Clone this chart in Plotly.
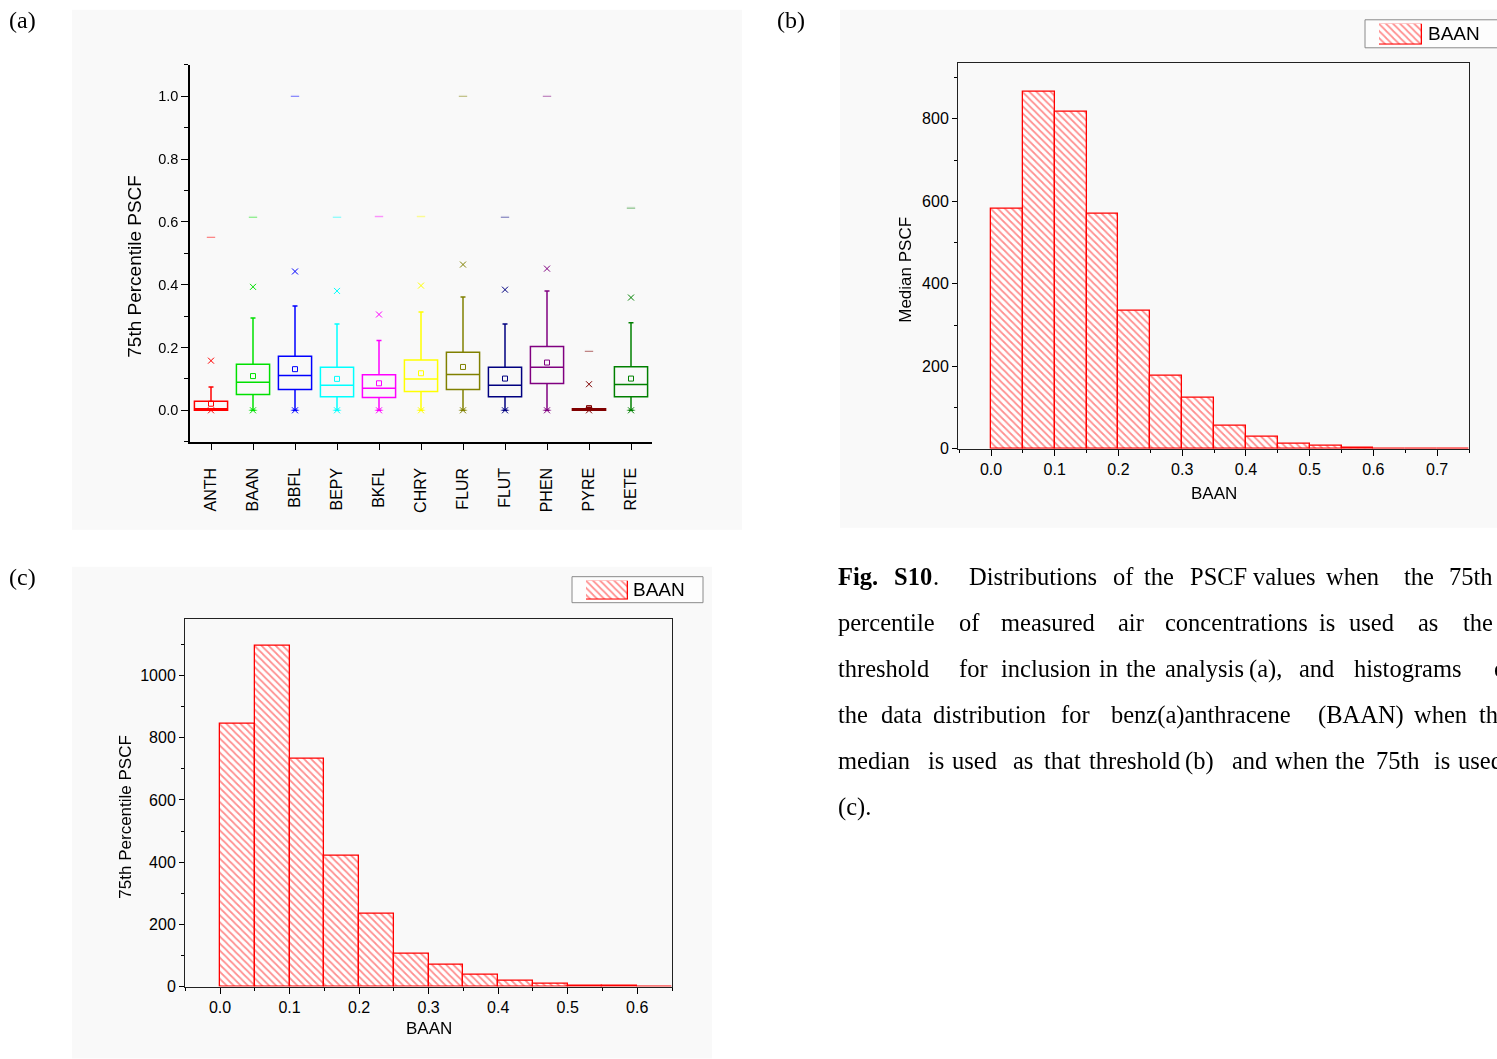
import plotly.graph_objects as go

# ---------------- data: panel (a) box plot ----------------
categories = ["ANTH", "BAAN", "BBFL", "BEPY", "BKFL", "CHRY", "FLUR", "FLUT", "PHEN", "PYRE", "RETE"]
box_colors = ["#FF0000", "#00E000", "#0000FF", "#00FFFF", "#FF00FF", "#FFFF00",
              "#808000", "#000080", "#800080", "#800000", "#008000"]
q1_vals = [0.0, 0.050, 0.066, 0.043, 0.041, 0.060, 0.066, 0.043, 0.085, 0.0, 0.043]
median_vals = [0.005, 0.089, 0.111, 0.080, 0.070, 0.100, 0.114, 0.080, 0.137, 0.001, 0.082]
q3_vals = [0.029, 0.147, 0.172, 0.137, 0.113, 0.160, 0.185, 0.137, 0.203, 0.005, 0.139]
mean_vals = [0.021, 0.109, 0.131, 0.100, 0.086, 0.118, 0.138, 0.101, 0.152, 0.007, 0.101]
whisker_low = [0.0] * 11
whisker_high = [0.074, 0.294, 0.332, 0.275, 0.222, 0.313, 0.361, 0.275, 0.380, 0.010, 0.279]
p1_vals = [0.0] * 11
p99_vals = [0.158, 0.393, 0.442, 0.380, 0.305, 0.397, 0.464, 0.384, 0.451, 0.083, 0.359]
min_vals = [0.0] * 11
max_vals = [0.551, 0.615, 1.0, 0.615, 0.617, 0.617, 1.0, 0.615, 1.0, 0.188, 0.644]

# ---------------- data: panel (b) histogram (median) ----------------
bins_b = [0.00, 0.05, 0.10, 0.15, 0.20, 0.25, 0.30, 0.35, 0.40, 0.45, 0.50, 0.55, 0.60, 0.65, 0.70]
counts_b = [582, 865, 817, 570, 335, 177, 123, 55, 30, 11, 7, 3, 1, 0, 1]

# ---------------- data: panel (c) histogram (75th) ----------------
bins_c = [0.00, 0.05, 0.10, 0.15, 0.20, 0.25, 0.30, 0.35, 0.40, 0.45, 0.50, 0.55, 0.60]
counts_c = [846, 1096, 733, 421, 235, 106, 71, 37, 19, 9, 4, 3, 1]

bin_width = 0.05
series_name = "BAAN"

W, H = 1497, 1059
def px(x):
    return x / W
def py(y):
    # vertical pixel position (from top) -> paper fraction, with small
    # correction for the capture's vertical scale
    return 1 - ((y - 0.2) / 0.9917) / H

SANS = "Liberation Sans, Arial, sans-serif"
SERIF = "Liberation Serif, Times New Roman, serif"

fig = go.Figure()

# ---- panel (a) boxes ----
for i, c in enumerate(categories):
    fig.add_trace(go.Box(
        x=[c], q1=[q1_vals[i]], median=[median_vals[i]], q3=[q3_vals[i]],
        lowerfence=[whisker_low[i]], upperfence=[whisker_high[i]],
        line=dict(color=box_colors[i], width=1.5), fillcolor="rgba(0,0,0,0)",
        width=0.79, whiskerwidth=0.15, boxpoints=False, showlegend=False,
        xaxis="x", yaxis="y", hoverinfo="skip"))

fig.add_trace(go.Scatter(x=categories, y=mean_vals, mode="markers", showlegend=False,
                         marker=dict(symbol="square-open", size=5, color=box_colors, line=dict(width=1)),
                         xaxis="x", yaxis="y"))
for yv in (p99_vals, p1_vals):
    fig.add_trace(go.Scatter(x=categories, y=yv, mode="markers", showlegend=False,
                             marker=dict(symbol="x-thin-open", size=6, color=box_colors,
                                         line=dict(width=1, color=box_colors)),
                             xaxis="x", yaxis="y"))
for yv in (max_vals, min_vals):
    fig.add_trace(go.Scatter(x=categories, y=yv, mode="markers", showlegend=False, opacity=0.6,
                             marker=dict(symbol="line-ew-open", size=6, color=box_colors,
                                         line=dict(width=1, color=box_colors)),
                             xaxis="x", yaxis="y"))

# ---- histogram style ----
def hist_marker():
    return dict(color="white",
                line=dict(color="#FF0000", width=1.3),
                pattern=dict(shape="\\", fgcolor="#FF2020", bgcolor="white", size=5, solidity=0.35))

fig.add_trace(go.Bar(x=bins_b, y=counts_b, width=bin_width, offset=0, name=series_name,
                     marker=hist_marker(), xaxis="x2", yaxis="y2", showlegend=False))
fig.add_trace(go.Bar(x=bins_c, y=counts_c, width=bin_width, offset=0, name=series_name,
                     marker=hist_marker(), xaxis="x3", yaxis="y3", showlegend=False))

# legend key swatches (one full-size hatched key per legend box)
for xa, ya in (("x4", "y4"), ("x5", "y5")):
    fig.add_trace(go.Bar(x=[series_name], y=[1], width=1, name=series_name,
                         marker=hist_marker(), xaxis=xa, yaxis=ya, showlegend=False,
                         hoverinfo="skip"))

tickfont = dict(family=SANS, size=16, color="black")
axis_common = dict(showgrid=False, zeroline=False, showline=True, ticks="outside",
                   tickcolor="black", tickfont=tickfont)
no_tf = {k: v for k, v in axis_common.items() if k != "tickfont"}
hidden = dict(visible=False, showgrid=False, zeroline=False, fixedrange=True)

fig.update_layout(
    width=W, height=H, margin=dict(l=0, r=0, t=0, b=0),
    paper_bgcolor="white", plot_bgcolor="rgba(0,0,0,0)",
    boxmode="overlay", bargap=0, showlegend=False,
    xaxis=dict(domain=[px(190), px(652)], anchor="y", type="category",
               range=[-0.5, 10.5], tickangle=-90, ticklen=7, ticklabelstandoff=11,
               linecolor="black", linewidth=1.5, **no_tf,
               tickfont=dict(family=SANS, size=16, color="black")),
    yaxis=dict(domain=[py(442), py(65)], anchor="x", range=[-0.1, 1.1],
               tick0=0, dtick=0.2, tickformat=".1f", ticklen=7,
               minor=dict(dtick=0.1, tick0=0, ticks="outside", ticklen=4, tickcolor="black"),
               linecolor="black", linewidth=1.5, **no_tf,
               tickfont=dict(family=SANS, size=14.5, color="black")),
    xaxis2=dict(domain=[px(958), px(1469)], anchor="y2", range=[-0.0518, 0.750],
                tick0=0, dtick=0.1, tickformat=".1f", ticklen=6,
                minor=dict(dtick=0.05, tick0=0, ticks="outside", ticklen=3, tickcolor="black"),
                mirror=True, linecolor="#222", linewidth=1, **axis_common),
    yaxis2=dict(domain=[py(449), py(63)], anchor="x2", range=[0, 936],
                tick0=0, dtick=200, ticklen=5,
                minor=dict(dtick=100, tick0=0, ticks="outside", ticklen=3, tickcolor="black"),
                mirror=True, linecolor="#222", linewidth=1, **axis_common),
    xaxis3=dict(domain=[px(185), px(672)], anchor="y3", range=[-0.0504, 0.650],
                tick0=0, dtick=0.1, tickformat=".1f", ticklen=6,
                minor=dict(dtick=0.05, tick0=0, ticks="outside", ticklen=3, tickcolor="black"),
                mirror=True, linecolor="#222", linewidth=1, **axis_common),
    yaxis3=dict(domain=[py(987), py(619)], anchor="x3", range=[0, 1183],
                tick0=0, dtick=200, ticklen=5,
                minor=dict(dtick=100, tick0=0, ticks="outside", ticklen=3, tickcolor="black"),
                mirror=True, linecolor="#222", linewidth=1, **axis_common),
    xaxis4=dict(domain=[px(1379), px(1422)], anchor="y4", range=[-0.5, 0.5], type="category", **hidden),
    yaxis4=dict(domain=[py(45), py(24)], anchor="x4", range=[0, 1], **hidden),
    xaxis5=dict(domain=[px(586), px(628)], anchor="y5", range=[-0.5, 0.5], type="category", **hidden),
    yaxis5=dict(domain=[py(600), py(581)], anchor="x5", range=[0, 1], **hidden),
)

# faint panel backgrounds
for (x0, y0, x1, y1) in [(72, 10, 742, 530), (840, 10, 1497, 528), (72, 567, 712, 1059)]:
    fig.add_shape(type="rect", xref="paper", yref="paper",
                  x0=px(x0), x1=px(x1), y0=py(y1), y1=py(y0),
                  fillcolor="#f9f9f9", line=dict(width=0), layer="below")

# legend boxes
for (x0, y0, x1, y1) in [(1365, 20, 1500, 48), (572, 577, 703, 603)]:
    fig.add_shape(type="rect", xref="paper", yref="paper",
                  x0=px(x0), x1=px(x1), y0=py(y1), y1=py(y0),
                  fillcolor="rgba(255,255,255,0.6)", line=dict(width=1, color="#8a8a8a"), layer="below")

def ann(text, x, y, size, family=SANS, angle=0, xanchor="center"):
    fig.add_annotation(text=text, x=px(x), y=py(y), xref="paper", yref="paper",
                       showarrow=False, textangle=angle, xanchor=xanchor, yanchor="middle",
                       borderpad=0, font=dict(family=family, size=size, color="black"))

# legend labels
ann(series_name, 1427, 34, 19, xanchor="left")
ann(series_name, 632, 590, 19, xanchor="left")

# axis titles
ann("75th Percentile PSCF", 135, 267, 19, angle=-90)
ann("Median PSCF", 906, 270, 17, angle=-90)
ann("BAAN", 1214, 494, 17)
ann("75th Percentile PSCF", 126, 818, 17, angle=-90)
ann("BAAN", 429, 1029, 17)

# panel labels
ann("(a)", 22, 20, 24, family=SERIF)
ann("(b)", 791, 20, 24, family=SERIF)
ann("(c)", 22, 577, 24, family=SERIF)

# caption (justified text, words placed individually)
caption_lines = [
    [("<b>Fig.</b>", 837), ("<b>S10</b>", 893), (".", 932), ("Distributions", 968), ("of", 1112),
     ("the", 1143), ("PSCF", 1189), ("values", 1252), ("when", 1325), ("the", 1403), ("75th", 1448)],
    [("percentile", 837), ("of", 958), ("measured", 1000), ("air", 1117), ("concentrations", 1164),
     ("is", 1318), ("used", 1348), ("as", 1417), ("the", 1462)],
    [("threshold", 837), ("for", 958), ("inclusion", 1000), ("in", 1098), ("the", 1125),
     ("analysis", 1164), ("(a),", 1248), ("and", 1298), ("histograms", 1353), ("of", 1493)],
    [("the", 837), ("data", 880), ("distribution", 932), ("for", 1060), ("benz(a)anthracene", 1110),
     ("(BAAN)", 1317), ("when", 1413), ("the", 1478)],
    [("median", 837), ("is", 927), ("used", 951), ("as", 1012), ("that", 1043), ("threshold", 1088),
     ("(b)", 1184), ("and", 1231), ("when", 1274), ("the", 1334), ("75th", 1375), ("is", 1433),
     ("used", 1457)],
    [("(c).", 837)],
]
line_centers = [577, 623, 669, 715, 761, 807]
for words, yc in zip(caption_lines, line_centers):
    for w, xw in words:
        ann(w, xw, yc, 24.5, family=SERIF, xanchor="left")

fig.write_html("out.html")
